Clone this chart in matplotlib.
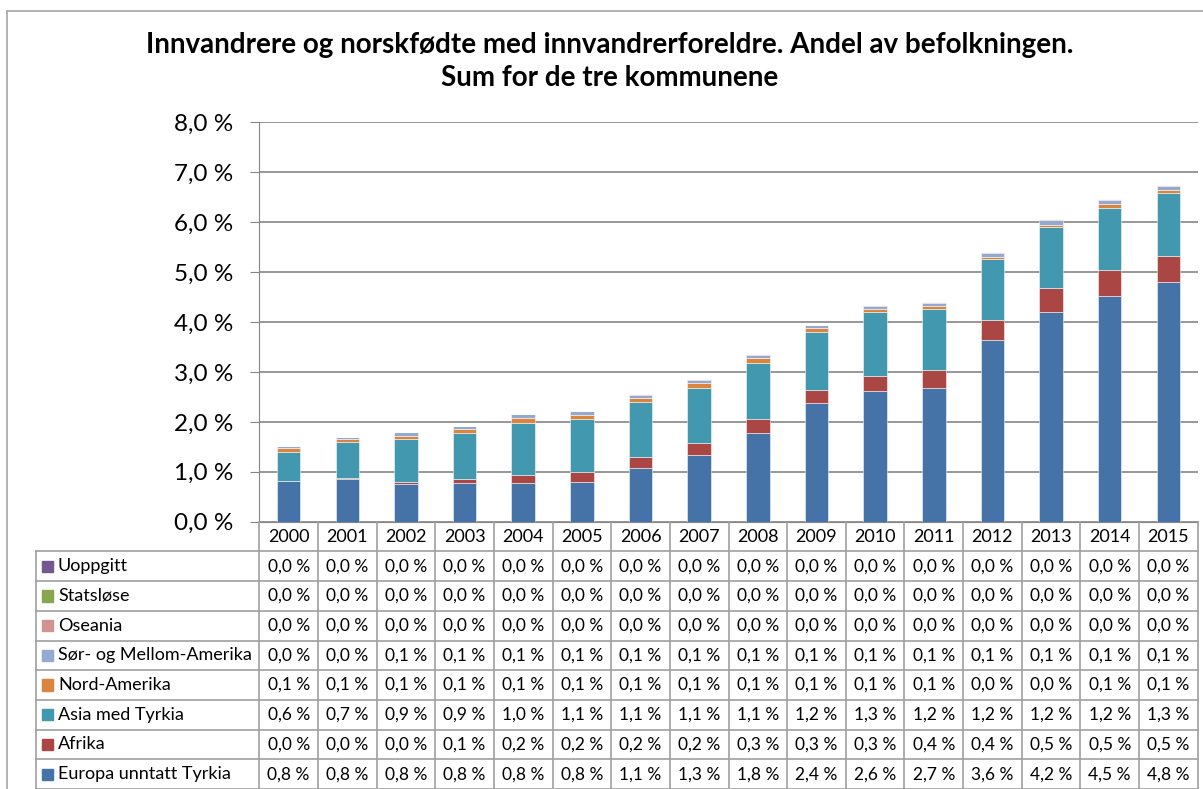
import numpy as np
import matplotlib
matplotlib.use("Agg")
import matplotlib.pyplot as plt
from matplotlib.patches import Rectangle
from matplotlib.lines import Line2D
from matplotlib.ticker import FuncFormatter

plt.rcParams['font.family'] = ['Lato', 'DejaVu Sans']

# Data (share of population, %)
years = [str(y) for y in range(2000, 2016)]
europa = [0.81, 0.85, 0.76, 0.77, 0.78, 0.79, 1.08, 1.34, 1.78, 2.38, 2.62, 2.68, 3.64, 4.21, 4.53, 4.81]
afrika = [0.01, 0.02, 0.03, 0.09, 0.16, 0.20, 0.22, 0.24, 0.28, 0.26, 0.30, 0.36, 0.41, 0.47, 0.52, 0.51]
asia = [0.58, 0.72, 0.86, 0.91, 1.04, 1.06, 1.10, 1.10, 1.12, 1.16, 1.28, 1.23, 1.22, 1.23, 1.24, 1.26]
nord_amerika = [0.07, 0.06, 0.07, 0.08, 0.09, 0.09, 0.08, 0.10, 0.10, 0.07, 0.07, 0.06, 0.04, 0.04, 0.08, 0.06]
sor_amerika = [0.04, 0.04, 0.07, 0.06, 0.08, 0.07, 0.06, 0.06, 0.06, 0.06, 0.06, 0.06, 0.08, 0.10, 0.08, 0.09]
oseania = [0.01] * 16
statslose = [0.004] * 16
uoppgitt = [0.002] * 16

series = [
    ("Europa unntatt Tyrkia", europa, "#4572A7"),
    ("Afrika", afrika, "#AA4643"),
    ("Asia med Tyrkia", asia, "#4198AF"),
    ("Nord-Amerika", nord_amerika, "#DB843D"),
    ("Sør- og Mellom-Amerika", sor_amerika, "#93A9CF"),
    ("Oseania", oseania, "#D19392"),
    ("Statsløse", statslose, "#89A54E"),
    ("Uoppgitt", uoppgitt, "#71588F"),
]

W, H = 1203, 789
fig = plt.figure(figsize=(W / 100, H / 100), dpi=100)

x0, x1 = 259.3, 1197.7
y0, y8 = 521.7, 122.3
ax = fig.add_axes([x0 / W, 1 - y0 / H, (x1 - x0) / W, (y0 - y8) / H])

grid_c = "#868686"
line_c = "#A0A0A0"
n = len(years)
xs = np.arange(n)
bottom = np.zeros(n)
for name, vals, col in series:
    ax.bar(xs, vals, width=0.4, bottom=bottom, color=col,
           edgecolor=(1, 1, 1, 0.6), linewidth=0.6, zorder=3)
    bottom += np.array(vals)

ax.set_xlim(-0.5, n - 0.5)
ax.set_ylim(0, 8)
ax.set_yticks(np.arange(0, 9))
ax.yaxis.set_major_formatter(FuncFormatter(lambda v, p: f"{v:.1f} %".replace(".", ",")))
ax.tick_params(axis='y', labelsize=17.5, length=6.5, color=grid_c, pad=12, labelcolor="black")
ax.set_xticks([])
ax.grid(axis='y', color=grid_c, linewidth=1.2, zorder=0)
for s in ["top", "right"]:
    ax.spines[s].set_visible(False)
ax.spines["left"].set_color(grid_c)
ax.spines["bottom"].set_color(grid_c)

# Data table below the plot
tax = fig.add_axes([x0 / W, 0, (x1 - x0) / W, (H - y0) / H])
tax.set_xlim(-0.5, n - 0.5)
tax.set_ylim(0, 9)
tax.axis("off")
lab_w = (x0 - 35.7) / (x1 - x0) * n
left = -0.5 - lab_w

for i in range(n + 1):
    tax.add_line(Line2D([i - 0.5, i - 0.5], [0, 9], color=line_c, lw=1.2, clip_on=False))
tax.add_line(Line2D([left, left], [0, 8], color=line_c, lw=1.2, clip_on=False))
for r in range(9):
    tax.add_line(Line2D([left, n - 0.5], [r, r], color=line_c, lw=1.2, clip_on=False))

for i, yr in enumerate(years):
    tax.text(i, 8.5, yr, ha="center", va="center", fontsize=13)

for r, (name, vals, col) in enumerate(series):
    yc = r + 0.5
    tax.add_patch(Rectangle((left + 0.105, yc - 0.19), 0.19, 0.38, color=col, clip_on=False))
    tax.text(left + 0.38, yc, name, ha="left", va="center", fontsize=13)
    for i, v in enumerate(vals):
        tax.text(i, yc, f"{v:.1f} %".replace(".", ","), ha="center", va="center", fontsize=12.5)

fig.text(0.507, 1 - 45 / H, "Innvandrere og norskfødte med innvandrerforeldre. Andel av befolkningen.",
         ha="center", va="center", fontsize=20, fontweight="bold")
fig.text(0.507, 1 - 78 / H, "Sum for de tre kommunene",
         ha="center", va="center", fontsize=20, fontweight="bold")

# chart border
fig.add_artist(Line2D([7 / W, 7 / W], [0, 1 - 11 / H], color="#A6A6A6", lw=1.2))
fig.add_artist(Line2D([7 / W, 1], [1 - 11 / H, 1 - 11 / H], color="#A6A6A6", lw=1.2))

fig.savefig("out.png", dpi=100, facecolor="white")
